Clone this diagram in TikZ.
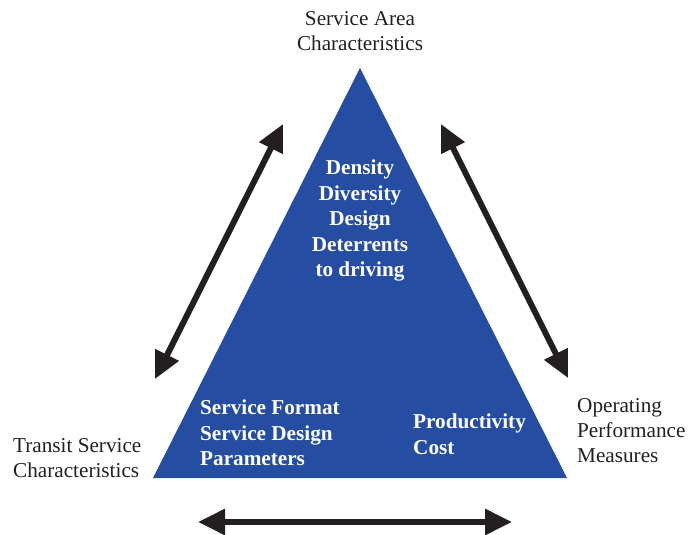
\documentclass[tikz,border=0pt]{standalone}
\usepackage{fontspec}
\setmainfont{Liberation Serif}
\usetikzlibrary{arrows.meta}
\definecolor{tri_blue}{RGB}{37, 77, 161}
\definecolor{ink}{RGB}{35, 31, 32}
\tikzstyle{lbl}=[inner sep=0pt,text=ink,font=\fontsize{21.2}{25}\selectfont]
\tikzstyle{inlbl}=[inner sep=0pt,text=white,font=\fontsize{21.2}{25.5}\selectfont\bfseries]
\tikzstyle{dbl}=[draw=ink,line width=6pt,{Triangle[length=27pt,width=25pt]}-{Triangle[length=27pt,width=25pt]}]
\tikzstyle{none}=[inner sep=0pt]

\begin{document}
\begin{tikzpicture}[x=1pt,y=-1pt]
            \useasboundingbox (0, 0) rectangle (697, 535);
            \node [style=none] (0) at (360, 68) {};
            \node [style=none] (1) at (153, 478) {};
            \node [style=none] (2) at (567, 478) {};
            \fill [tri_blue] (0.center) -- (1.center) -- (2.center) -- cycle;
            \node [style=lbl, anchor=north, align=center] (3) at (360, 11.5) {Service Area\\Characteristics};
            \node [style=lbl, anchor=north west, align=left] (4) at (13, 438) {Transit Service\\Characteristics};
            \node [style=lbl, anchor=north west, align=left] (5) at (577, 398) {Operating\\Performance\\Measures};
            \node [style=inlbl, anchor=north, align=center] (6) at (360, 160) {Density\\Diversity\\Design\\Deterrents\\to driving};
            \node [style=inlbl, anchor=north west, align=left] (7) at (200, 400) {Service Format\\Service Design\\Parameters};
            \node [style=inlbl, anchor=north west, align=left] (8) at (413, 414) {Productivity\\Cost};
            \node [style=none] (9) at (155, 379) {};
            \node [style=none] (10) at (283, 124) {};
            \node [style=none] (11) at (441, 124) {};
            \node [style=none] (12) at (568, 378) {};
            \node [style=none] (13) at (198, 522) {};
            \node [style=none] (14) at (512, 522) {};
            \draw [style=dbl] (9.center) to (10.center);
            \draw [style=dbl] (11.center) to (12.center);
            \draw [style=dbl] (13.center) to (14.center);
    \end{tikzpicture}
\end{document}
